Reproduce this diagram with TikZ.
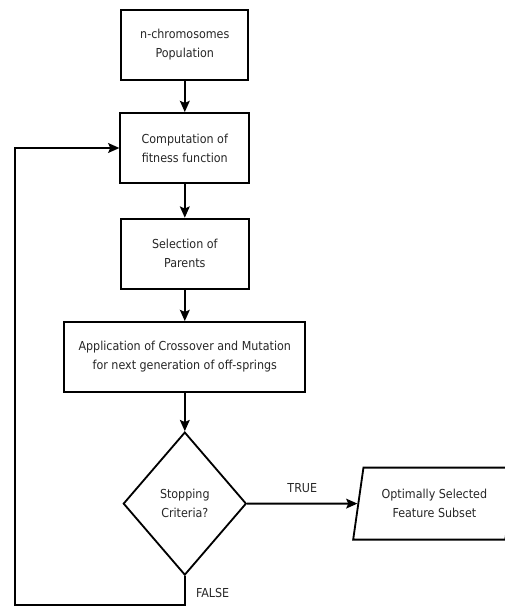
\documentclass[tikz,border=0pt]{standalone}
\usepackage{fontspec}
\setmainfont{DejaVu Sans Condensed}
\usetikzlibrary{shapes.geometric,arrows.meta}
\tikzset{
    txt/.style={text=black!85, font=\fontsize{8.8}{13.5}\selectfont},
    box/.style={rectangle, draw=black, line width=1.3pt, minimum height=1.75cm, align=center, txt},
    flow/.style={->, line width=1.3pt},
    >={Stealth[length=8pt,width=7pt,inset=1.5pt]}
}
\begin{document}
\begin{tikzpicture}
        \useasboundingbox (0,0) rectangle (12.6,-15.175);

        \node[box, minimum width=3.175cm] (pop) at (4.62,-1.125) {n-chromosomes\\Population};
        \node[box, minimum width=3.225cm] (fit) at (4.62,-3.7) {Computation of\\fitness function};
        \node[box, minimum width=3.2cm] (sel) at (4.62,-6.34) {Selection of\\Parents};
        \node[box, minimum width=6.025cm] (cross) at (4.62,-8.925) {Application of Crossover and Mutation\\for next generation of off-springs};
        \node[box, diamond, minimum width=3.075cm, minimum height=3.575cm, inner sep=0pt] (stop) at (4.62,-12.59) {Stopping\\Criteria?};
        \node[box, trapezium, trapezium left angle=75, trapezium right angle=105, trapezium stretches=true, minimum width=4.075cm, minimum height=1.8cm, inner sep=0pt] (out) at (10.86,-12.59) {Optimally Selected\\Feature Subset};

        \draw[flow] (pop) -- (fit);
        \draw[flow] (fit) -- (sel);
        \draw[flow] (sel) -- (cross);
        \draw[flow] (cross) -- (stop);
        \draw[flow] (stop) -- node[midway, above=4pt, txt] {TRUE} (out);

        % loop back to the fitness function
        \coordinate (back) at (0.375,-15.125);
        \draw[flow] (stop.south) |- node[pos=0.3, right=4pt, txt] {FALSE} (back) |- (fit.west);
    \end{tikzpicture}
\end{document}
